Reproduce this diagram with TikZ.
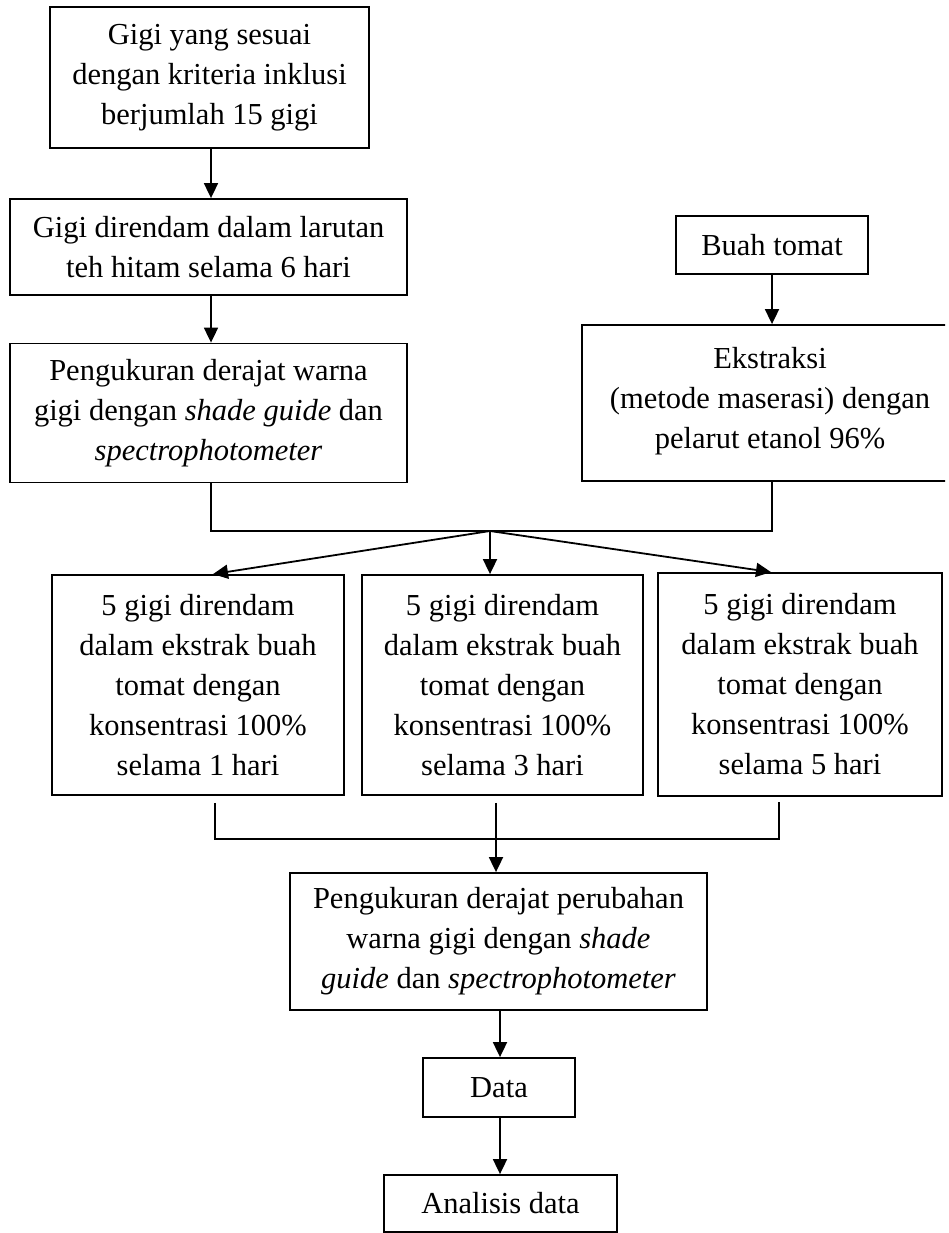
\documentclass[tikz,border=0pt]{standalone}
\usepackage{fontspec}
\setmainfont{Liberation Serif}
\usetikzlibrary{arrows.meta}
\begin{document}
\begin{tikzpicture}[x=1pt,y=-1pt,
  box/.style={draw, line width=1.8pt, inner sep=0pt, align=center,
    font=\fontsize{30.5pt}{40pt}\selectfont},
  conn/.style={line width=1.8pt},
  arr/.style={line width=1.8pt, -{Triangle[width=14pt,length=15pt]}}]
\useasboundingbox (0,0) rectangle (948,1233);
\clip (0,0) rectangle (945,1233);
\fill[white] (0,0) rectangle (948,1233);

\node[box, minimum width=319pt, minimum height=141pt] (b1) at (209.5,77.5)
  {Gigi yang sesuai\\dengan kriteria inklusi\\berjumlah 15 gigi};
\node[box, minimum width=397pt, minimum height=96pt] (b2) at (208.5,247)
  {Gigi direndam dalam larutan\\teh hitam selama 6 hari};
\node[box, minimum width=397pt, minimum height=139pt] (b3) at (208.5,413)
  {Pengukuran derajat warna\\gigi dengan \textit{shade guide} dan\\\textit{spectrophotometer}};
\node[box, minimum width=192pt, minimum height=58pt] (buah) at (772,245)
  {Buah tomat};
\node[box, minimum width=376pt, minimum height=156pt, text depth=10pt] (ekstr) at (770,403)
  {Ekstraksi\\(metode maserasi) dengan\\pelarut etanol 96\%};

\node[box, minimum width=292pt, minimum height=220pt] (r1) at (198,685)
  {5 gigi direndam\\dalam ekstrak buah\\tomat dengan\\konsentrasi 100\%\\selama 1 hari};
\node[box, minimum width=281pt, minimum height=220pt] (r2) at (502.5,685)
  {5 gigi direndam\\dalam ekstrak buah\\tomat dengan\\konsentrasi 100\%\\selama 3 hari};
\node[box, minimum width=284pt, minimum height=223pt] (r3) at (800,684.5)
  {5 gigi direndam\\dalam ekstrak buah\\tomat dengan\\konsentrasi 100\%\\selama 5 hari};

\node[box, minimum width=417pt, minimum height=137pt] (p2) at (498.5,941.5)
  {Pengukuran derajat perubahan\\warna gigi dengan \textit{shade}\\\textit{guide} dan \textit{spectrophotometer}};
\node[box, minimum width=152pt, minimum height=59pt] (data) at (499,1087.5)
  {Data};
\node[box, minimum width=233pt, minimum height=57pt] (anal) at (500.5,1203.5)
  {Analisis data};

\draw[arr] (b1.south -| 211,0) -- (b2.north -| 211,0);
\draw[arr] (b2.south -| 211,0) -- (b3.north -| 211,0);
\draw[arr] (buah.south) -- (buah.south |- ekstr.north);

\coordinate (j) at (490,531);
\draw[conn] (b3.south -| 211,0) |- (j) -| (ekstr.south -| buah.south);
\draw[arr] (j) -- ([xshift=15pt]r1.north);
\draw[arr] (j) -- (r2.north -| j);
\draw[arr] (j) -- ([xshift=-29pt]r3.north);

\coordinate (k) at (496,839);
\draw[conn] ([xshift=17pt,yshift=-7pt]r1.south) |- (k) -| ([xshift=-21pt,yshift=-5pt]r3.south);
\draw[arr] ([yshift=-7pt]r2.south -| k) -- (k |- p2.north);

\draw[arr] (p2.south -| 500,0) -- (data.north -| 500,0);
\draw[arr] (data.south -| 500,0) -- (anal.north -| 500,0);
\end{tikzpicture}
\end{document}
